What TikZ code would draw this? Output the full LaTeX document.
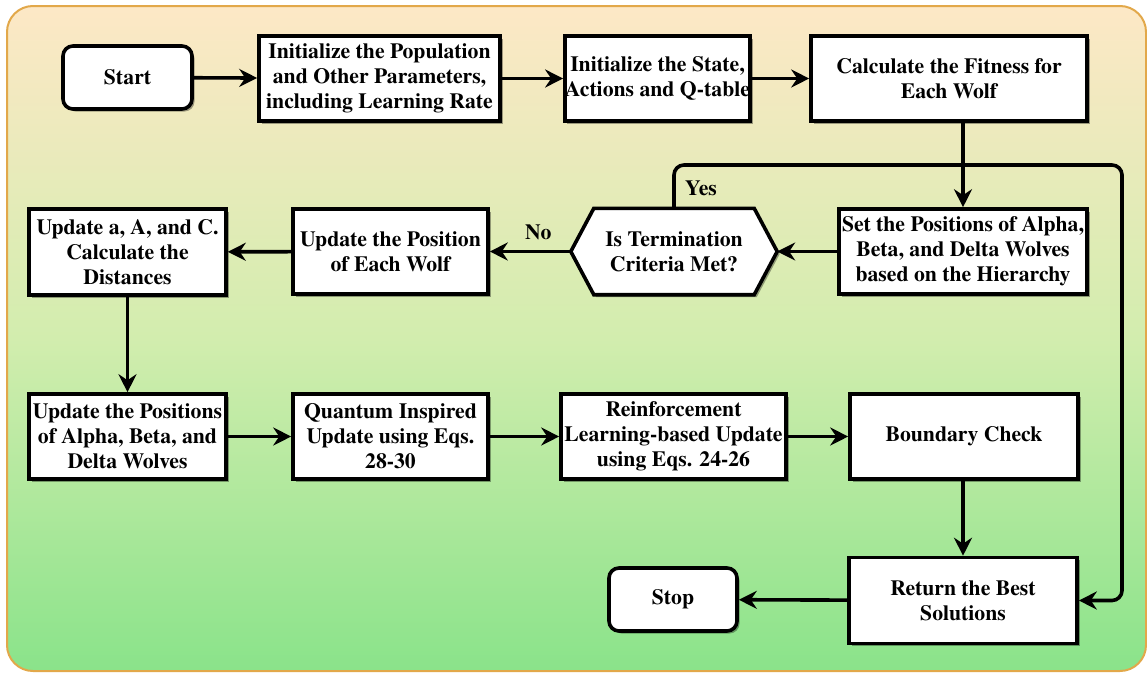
\documentclass[tikz,border=0pt]{standalone}
\usepackage{fontspec}
\setmainfont{TeX Gyre Termes}
\usetikzlibrary{arrows.meta,shadows,calc}
\pgfdeclarelayer{back}
\pgfdeclarelayer{mid}
\pgfsetlayers{back,mid,main}
\definecolor{bgtop}{RGB}{253,232,198}
\definecolor{bgmid}{RGB}{210,237,174}
\definecolor{bgbot}{RGB}{138,227,138}
\definecolor{bgedge}{RGB}{226,168,74}
\tikzset{
  txt/.style={font=\bfseries\fontsize{21.7}{25}\selectfont},
  shad/.style={drop shadow={shadow xshift=2.5pt,shadow yshift=-2.5pt,fill=black,opacity=0.35}},
  box/.style={txt,draw,line width=3.6pt,fill=white,align=center,inner sep=0pt,shad},
  term/.style={box,rounded corners=10pt},
  flow/.style={line width=3.6pt,-{Stealth[length=18pt,width=18pt,inset=6pt]}},
}
\begin{document}
\begin{tikzpicture}[x=1pt,y=-1pt]
\useasboundingbox (0,0) rectangle (1147,672);
\begin{pgfonlayer}{back}
\shade[top color=bgtop,bottom color=bgbot,middle color=bgmid,draw=bgedge,line width=2pt,rounded corners=26pt]
  (7,6) rectangle (1146,671);
\end{pgfonlayer}

\node[term,minimum width=129,minimum height=63] (start) at (127.5,77.5) {Start};
\node[box,minimum width=241,minimum height=85] (initpop) at (379.5,78.5) {Initialize the Population\\and Other Parameters,\\including Learning Rate};
\node[box,minimum width=165,minimum height=85] (initstate) at (657.5,78.5) {Initialize the State,\\Actions and Q-table};
\node[box,minimum width=276,minimum height=85] (fitness) at (949,78.5) {Calculate the Fitness for\\Each Wolf};
\node[box,minimum width=248,minimum height=85] (setpos) at (963,251.5) {Set the Positions of Alpha,\\Beta, and Delta Wolves\\based on the Hierarchy};
\node[txt,align=center,inner sep=0pt,minimum width=206,minimum height=86] (dec) at (674,251.5) {Is Termination\\Criteria Met?};
\begin{pgfonlayer}{mid}
\path[draw,fill=white,line width=3.6pt,shad]
  (dec.west) -- ([xshift=23pt]dec.north west) -- ([xshift=-23pt]dec.north east)
  -- (dec.east) -- ([xshift=-23pt]dec.south east) -- ([xshift=23pt]dec.south west) -- cycle;
\end{pgfonlayer}
\node[box,minimum width=195,minimum height=85] (updpos) at (390.5,251.5) {Update the Position\\of Each Wolf};
\node[box,minimum width=197,minimum height=86] (upda) at (127.5,252) {Update a, A, and C.\\Calculate the\\Distances};
\node[box,minimum width=197,minimum height=85] (updalpha) at (127.5,436.5) {Update the Positions\\of Alpha, Beta, and\\Delta Wolves};
\node[box,minimum width=195,minimum height=85] (quantum) at (390.5,436.5) {Quantum Inspired\\Update using Eqs.\\28-30};
\node[box,minimum width=225,minimum height=85] (reinf) at (673.5,436.5) {Reinforcement\\Learning-based Update\\using Eqs. 24-26};
\node[box,minimum width=228,minimum height=85] (boundary) at (964,436.5) {Boundary Check};
\node[box,minimum width=228,minimum height=86] (ret) at (963,600.5) {Return the Best\\Solutions};
\node[term,minimum width=128,minimum height=63] (stop) at (673,599.5) {Stop};

\coordinate (yr) at (1122,165);

\draw[flow] (start) -- (initpop);
\draw[flow] (initpop) -- (initstate);
\draw[flow] (initstate) -- (fitness);
\draw[flow] (fitness.south -| setpos.north) -- (setpos.north);
\draw[flow] (setpos) -- (dec.east);
\draw[flow] (dec.west) -- node[txt,above=6pt,pos=0.5,xshift=8pt] (no) {No} (updpos.east);
\draw[flow] (updpos) -- (upda);
\draw[flow] (upda) -- (updalpha);
\draw[flow] (updalpha) -- (quantum);
\draw[flow] (quantum) -- (reinf);
\draw[flow] (reinf) -- (boundary);
\draw[flow] (boundary.south -| ret.north) -- (ret.north);
\draw[flow] (ret) -- (stop);
\draw[flow,rounded corners=10pt] (dec.north) |- (yr) |- (ret.east);
\node[txt] (yes) at (701,188) {Yes};
\end{tikzpicture}
\end{document}
